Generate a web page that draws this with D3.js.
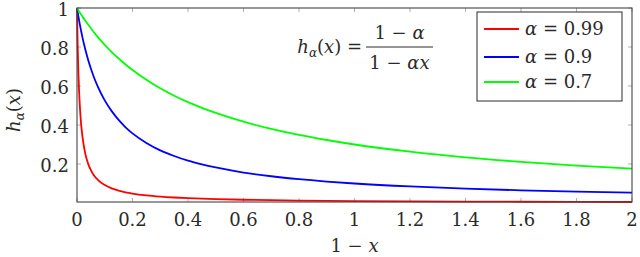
<!DOCTYPE html>
<html>
<head>
<meta charset="utf-8">
<script src="https://cdn.jsdelivr.net/npm/d3@7"></script>
<style>
  body { margin: 0; background: #fff; }
</style>
</head>
<body>
<div id="chart"></div>
<script>
// values (x axis is 1 - x)
var oneMinusX = [0, 0.0025, 0.005, 0.0075, 0.01, 0.015, 0.02, 0.03, 0.04, 0.05, 0.06, 0.075, 0.1, 0.125, 0.15, 0.175, 0.2, 0.25, 0.3, 0.35, 0.4, 0.45, 0.5, 0.6, 0.7, 0.8, 0.9, 1.0, 1.2, 1.4, 1.6, 1.8, 2.0];
var h099 = [1, 0.80, 0.669, 0.574, 0.503, 0.402, 0.336, 0.252, 0.202, 0.168, 0.144, 0.119, 0.0917, 0.0748, 0.0631, 0.0546, 0.0481, 0.0388, 0.0326, 0.0281, 0.0246, 0.0220, 0.0198, 0.0166, 0.0142, 0.0125, 0.0111, 0.0100, 0.00835, 0.00716, 0.00627, 0.00558, 0.00503];
var h09 = [1, 0.978, 0.957, 0.937, 0.917, 0.881, 0.847, 0.787, 0.735, 0.690, 0.649, 0.597, 0.526, 0.471, 0.426, 0.388, 0.357, 0.308, 0.270, 0.241, 0.217, 0.198, 0.182, 0.156, 0.137, 0.122, 0.110, 0.100, 0.0847, 0.0735, 0.0649, 0.0581, 0.0526];
var h07 = [1, 0.994, 0.988, 0.983, 0.977, 0.966, 0.955, 0.935, 0.915, 0.896, 0.877, 0.851, 0.811, 0.774, 0.741, 0.710, 0.682, 0.632, 0.588, 0.550, 0.517, 0.488, 0.462, 0.417, 0.380, 0.349, 0.323, 0.300, 0.263, 0.234, 0.211, 0.192, 0.176];
var seriesNames = ["0.99", "0.9", "0.7"];
var seriesColors = ["#ff0000", "#0000ff", "#00ff00"];
var xTicks = [0, 0.2, 0.4, 0.6, 0.8, 1, 1.2, 1.4, 1.6, 1.8, 2];
var yTicks = [0.2, 0.4, 0.6, 0.8, 1];

var series = [h099, h09, h07];
var FONT = "'DejaVu Serif'";
var INK = "#2a2a2a";

var margin = { top: 8, right: 8, bottom: 55, left: 77 },
  width = 640 - margin.left - margin.right,
  height = 257 - margin.top - margin.bottom;

var xScale = d3.scaleLinear().domain([0, 2]).range([0, width]);
var yScale = d3.scaleLinear()
  .domain([d3.min(series, function(s) { return d3.min(s); }), 1])
  .range([height, 0]);

var svg = d3.select('#chart')
  .append('svg')
  .attr('width', 640)
  .attr('height', 257)
  .append('g')
  .attr('transform', 'translate(' + margin.left + ',' + margin.top + ')');

function label(sel) {
  return sel.style('font-family', FONT).style('font-size', '18px').attr('fill', INK);
}

// inner tick marks on all four sides
var tickLen = 4;
var tickCol = "#b0b0b0";
svg.selectAll('.xtb').data(xTicks).enter().append('line')
  .attr('x1', function(d) { return xScale(d); }).attr('x2', function(d) { return xScale(d); })
  .attr('y1', height).attr('y2', height - tickLen)
  .attr('stroke', tickCol);
svg.selectAll('.xtt').data(xTicks).enter().append('line')
  .attr('x1', function(d) { return xScale(d); }).attr('x2', function(d) { return xScale(d); })
  .attr('y1', 0).attr('y2', tickLen)
  .attr('stroke', tickCol);
svg.selectAll('.ytl').data(yTicks).enter().append('line')
  .attr('y1', function(d) { return yScale(d); }).attr('y2', function(d) { return yScale(d); })
  .attr('x1', 0).attr('x2', tickLen)
  .attr('stroke', tickCol);
svg.selectAll('.ytr').data(yTicks).enter().append('line')
  .attr('y1', function(d) { return yScale(d); }).attr('y2', function(d) { return yScale(d); })
  .attr('x1', width).attr('x2', width - tickLen)
  .attr('stroke', tickCol);

// curves
var line = d3.line()
  .curve(d3.curveMonotoneX)
  .x(function(d, i) { return xScale(oneMinusX[i]); })
  .y(function(d) { return yScale(d); });

svg.selectAll('.curve')
  .data(series)
  .enter().append('path')
  .attr('class', 'curve')
  .attr('d', line)
  .attr('fill', 'none')
  .attr('stroke', function(d, i) { return seriesColors[i]; })
  .attr('stroke-width', 1.8);

// frame
svg.append('rect')
  .attr('x', 0).attr('y', 0)
  .attr('width', width).attr('height', height)
  .attr('fill', 'none')
  .attr('stroke', '#444')
  .attr('stroke-width', 1.1);

// tick labels
label(svg.selectAll('.xl').data(xTicks).enter().append('text'))
  .attr('x', function(d) { return xScale(d); })
  .attr('y', height + 24)
  .style('text-anchor', 'middle')
  .text(function(d) { return d3.format('')(d); });

label(svg.selectAll('.yl').data(yTicks).enter().append('text'))
  .attr('x', -8)
  .attr('y', function(d) { return Math.max(yScale(d) + 8, 8); })
  .style('text-anchor', 'end')
  .text(function(d) { return d3.format('')(d); });

// x axis label "1 − x"
var xl = label(svg.append('text'))
  .attr('x', width / 2)
  .attr('y', height + 50)
  .style('text-anchor', 'middle');
xl.append('tspan').text('1 − ');
xl.append('tspan').style('font-style', 'italic').text('x');

// y axis label h_α(x)
var yl = label(svg.append('text'))
  .attr('transform', 'rotate(-90)')
  .attr('x', -(110 - margin.top))
  .attr('y', 20 - margin.left)
  .style('text-anchor', 'middle');
yl.append('tspan').style('font-style', 'italic').text('h');
yl.append('tspan').style('font-style', 'italic').style('font-size', '12px').attr('dy', 4).text('α');
yl.append('tspan').attr('dy', -4).text('(');
yl.append('tspan').style('font-style', 'italic').text('x');
yl.append('tspan').text(')');

// formula
var fracL = 366 - margin.left, fracR = 433 - margin.left, fracY = 47 - margin.top;
var f = label(svg.append('text'))
  .attr('x', fracL - 4).attr('y', fracY + 6)
  .style('text-anchor', 'end');
f.append('tspan').style('font-style', 'italic').text('h');
f.append('tspan').style('font-style', 'italic').style('font-size', '12px').attr('dy', 4).text('α');
f.append('tspan').attr('dy', -4).text('(');
f.append('tspan').style('font-style', 'italic').text('x');
f.append('tspan').text(') =');
svg.append('line')
  .attr('x1', fracL).attr('x2', fracR)
  .attr('y1', fracY).attr('y2', fracY)
  .attr('stroke', INK).attr('stroke-width', 1);
var num = label(svg.append('text')).attr('x', (fracL + fracR) / 2).attr('y', fracY - 8)
  .style('text-anchor', 'middle');
num.append('tspan').text('1 − ');
num.append('tspan').style('font-style', 'italic').text('α');
var den = label(svg.append('text')).attr('x', (fracL + fracR) / 2).attr('y', fracY + 22)
  .style('text-anchor', 'middle');
den.append('tspan').text('1 − ');
den.append('tspan').style('font-style', 'italic').text('αx');

// legend
var lg = svg.append('g').attr('transform', 'translate(' + (477 - margin.left) + ',' + (12 - margin.top) + ')');
lg.append('rect')
  .attr('width', 145).attr('height', 89)
  .attr('fill', '#fff').attr('stroke', INK).attr('stroke-width', 1);
var items = lg.selectAll('.item').data(seriesNames).enter().append('g')
  .attr('transform', function(d, i) { return 'translate(0,' + [17, 45, 70][i] + ')'; });
items.append('line')
  .attr('x1', 7).attr('x2', 42)
  .attr('stroke', function(d, i) { return seriesColors[i]; })
  .attr('stroke-width', 1.8);
var it = label(items.append('text')).attr('x', 48).attr('y', 6);
it.append('tspan').style('font-style', 'italic').text('α');
it.append('tspan').text(function(d) { return ' = ' + d; });
</script>
</body>
</html>
